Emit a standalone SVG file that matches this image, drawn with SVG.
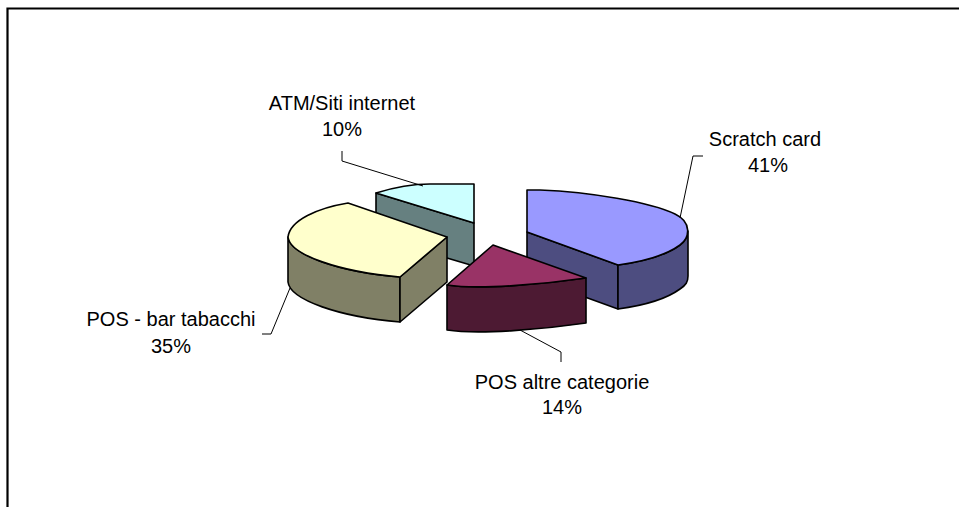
<svg xmlns="http://www.w3.org/2000/svg" width="959" height="507" viewBox="0 0 959 507">
<style>
.edge{stroke:#000;stroke-width:1.6;stroke-linejoin:round}
.lead{fill:none;stroke:#000;stroke-width:1}
.lbl{font-family:"Liberation Sans",Arial,sans-serif;font-size:20px;fill:#000;text-anchor:middle}
</style>
<rect x="0" y="0" width="959" height="507" fill="#fff"/>
<polyline points="7.5,507 7.5,8.5 959,8.5" fill="none" stroke="#000" stroke-width="2.2"/>
<g id="atm-siti-internet">
<path class="edge" fill="#668080" d="M376,193 L474,223 L474,266 L376,237 Z"/>
<path class="edge" fill="#CCFFFF" d="M376,193 C392,188 410,184 430,184 L474,184 L474,223 Z"/>
</g>
<g id="scratch-card">
<path class="edge" fill="#4D4D80" d="M527,232 L618,265 L618,309 L527,276 Z"/>
<path class="edge" fill="#4D4D80" d="M618,265 C640,262 665,256 680,245 C686,240 688,236 688,231 L688,276 C688,282 686,285 680,289 C665,300 640,306 618,309 Z"/>
<path class="edge" fill="#9999FF" d="M527,190 L540,190 C590,192 650,202 675,214 C692,222 690,238 680,245 C665,256 640,262 618,265 L527,232 Z"/>
</g>
<g id="pos-bar-tabacchi">
<path class="edge" fill="#808066" d="M288,237 C290,255 340,272 400,277 L400,322 C340,317 290,300 288,282 Z"/>
<path class="edge" fill="#808066" d="M447,237 L400,277 L400,322 L447,282 Z"/>
<path class="edge" fill="#FFFFCC" d="M447,237 L348,203 C318,208 290,220 288,237 C290,255 340,272 400,277 Z"/>
</g>
<g id="pos-altre-categorie">
<path class="edge" fill="#4D1A33" d="M447,285 C480,290 545,284 586,278 L586,323 C545,329 480,335 447,330 Z"/>
<path class="edge" fill="#993366" d="M493,245 L447,285 C480,290 545,284 586,278 Z"/>
</g>
<g id="connectors">
<polyline class="lead" points="342,151 342,161 423,186"/>
<polyline class="lead" points="703,156 693,156 680,218"/>
<polyline class="lead" points="520,330 561,352 561,362"/>
<polyline class="lead" points="262,334 271,334 290,288"/>
</g>
<g id="labels">
<text class="lbl" x="342" y="110">ATM/Siti internet</text>
<text class="lbl" x="342" y="136">10%</text>
<text class="lbl" x="765" y="146">Scratch card</text>
<text class="lbl" x="768" y="172">41%</text>
<text class="lbl" x="171" y="326">POS - bar tabacchi</text>
<text class="lbl" x="171" y="353">35%</text>
<text class="lbl" x="562" y="389">POS altre categorie</text>
<text class="lbl" x="562" y="414">14%</text>
</g>
</svg>
